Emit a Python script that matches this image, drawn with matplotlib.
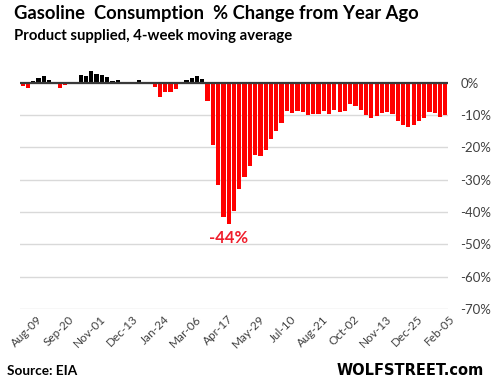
import numpy as np
import matplotlib.pyplot as plt
from matplotlib.transforms import ScaledTranslation

plt.rcParams['font.family'] = ['Lato', 'DejaVu Sans']

# weekly % change vs year ago, Aug-09 (2019) ... Feb-19 (2021)
pct_change = [
    -1.0, -1.7, 0.4, 1.3, 2.0, 0.7, 0.0, -1.7, -0.8, 0.0,
    0.0, 2.3, 2.0, 3.5, 2.6, 2.4, 1.7, 0.5, 0.8, 0.0,
    0.0, 0.0, 0.8, 0.0, -0.5, -1.3, -4.4, -2.9, -2.9, -2.0,
    0.0, 0.8, 1.4, 2.0, 1.1, -5.7, -19.2, -31.6, -41.5, -43.7,
    -39.6, -32.8, -29.1, -25.7, -22.3, -22.6, -20.7, -17.4, -14.8, -12.4,
    -8.8, -9.3, -8.8, -9.1, -9.9, -9.6, -9.6, -8.8, -9.7, -8.5,
    -9.1, -8.8, -6.6, -7.2, -8.5, -9.9, -10.8, -10.2, -9.4, -9.1,
    -9.6, -11.8, -13.0, -13.6, -13.0, -11.8, -10.8, -9.1, -9.3, -10.5,
    -9.9,
]
tick_labels = ['Aug-09', 'Sep-20', 'Nov-01', 'Dec-13', 'Jan-24', 'Mar-06', 'Apr-17',
               'May-29', 'Jul-10', 'Aug-21', 'Oct-02', 'Nov-13', 'Dec-25', 'Feb-05']
tick_every = 6
y_ticks = [0, -10, -20, -30, -40, -50, -60, -70]

RED = '#ff0000'
TXT = '#404040'

vals = np.array(pct_change)
x = np.arange(len(vals))
colors = np.where(vals >= 0, 'black', RED)

fig = plt.figure(figsize=(4.91, 3.89), dpi=100, facecolor='white')
ax = fig.add_axes([0.0407, 0.2057, 0.8717, 0.6233])

ax.bar(x, vals, width=0.8, color=colors, zorder=2)
ax.axhline(0, color='#3a3a3a', linewidth=1.6, zorder=3)

ax.set_xlim(-0.5, len(vals) - 0.5)
ax.set_ylim(-70, 5)
ax.set_yticks(y_ticks)
ax.set_yticklabels([f'{t}%' for t in y_ticks])
ax.yaxis.tick_right()
ax.grid(True, axis='y', color='#d9d9d9', linewidth=1, zorder=0)
ax.set_axisbelow(True)
for s in ax.spines.values():
    s.set_visible(False)
ax.tick_params(axis='y', length=0, pad=9, labelsize=9.5, labelcolor=TXT)

ax.set_xticks(x[::tick_every])
ax.set_xticklabels(tick_labels, rotation=45, ha='right', va='center',
                   rotation_mode='anchor')
ax.tick_params(axis='x', length=0, pad=6, labelsize=8.5, labelcolor=TXT)
shift = ScaledTranslation(18 / 100, 0, fig.dpi_scale_trans)
for lab in ax.get_xticklabels():
    lab.set_transform(lab.get_transform() + shift)

# label on the deepest drop
imin = int(np.argmin(vals))
ax.annotate(f'{vals[imin]:.0f}%', xy=(imin, vals[imin]), xytext=(0, -4),
            textcoords='offset points', ha='center', va='top',
            color='#f01e2c', fontsize=12, fontweight='bold')

fig.text(0.0285, 0.951, 'Gasoline  Consumption  % Change from Year Ago',
         fontsize=13.2, fontweight='bold', color='black', va='baseline')
fig.text(0.0285, 0.898, 'Product supplied, 4-week moving average',
         fontsize=10.7, fontweight='bold', color='black', va='baseline')
fig.text(0.014, 0.036, 'Source: EIA', fontsize=9.8, fontweight='bold',
         color='black', va='baseline')
fig.text(0.986, 0.036, 'WOLFSTREET.com', fontsize=10.5, fontweight='bold',
         color='black', va='baseline', ha='right', family='DejaVu Sans')

fig.savefig('out.png', dpi=100, facecolor='white')
